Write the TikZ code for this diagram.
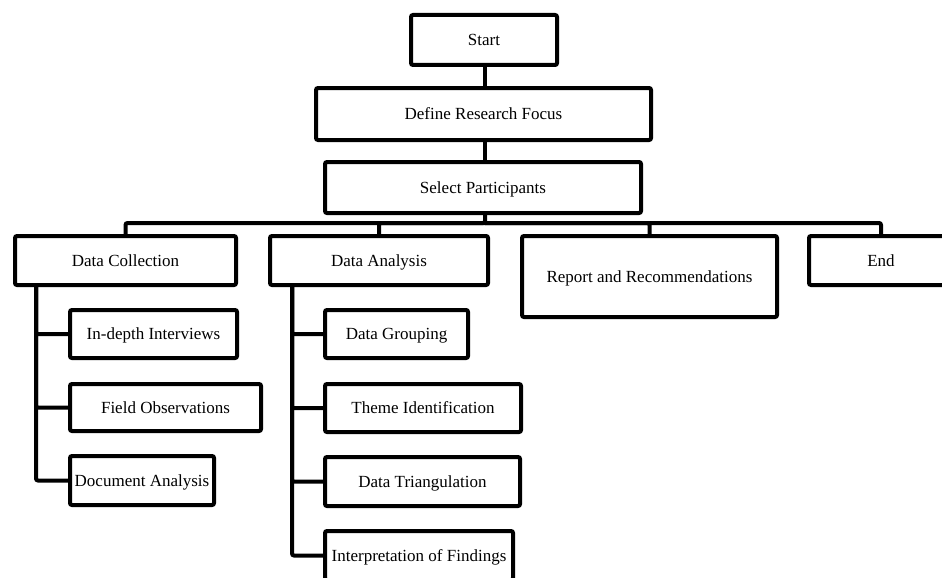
\documentclass[tikz,border=0pt]{standalone}
\usepackage{fontspec}
\setmainfont{Liberation Serif}
\begin{document}
\begin{tikzpicture}[x=1pt,y=-1pt,
  box/.style={draw=black, line width=4pt, rounded corners=2pt, fill=white,
    inner sep=0pt, outer sep=0pt, align=center, text height=12pt, text depth=0.5pt,
    font=\fontsize{17}{20}\selectfont},
  link/.style={draw=black, line width=4pt, rounded corners=2pt}]
\clip (0,0) rectangle (942,578);
\fill[white] (0,0) rectangle (942,578);
% main column
\node[box, minimum width=146pt, minimum height=50pt] (start) at (484,40) {Start};
\node[box, minimum width=335pt, minimum height=52pt] (define) at (483.5,114) {Define Research Focus};
\node[box, minimum width=316pt, minimum height=51pt] (select) at (483,187.5) {Select Participants};
% second row
\node[box, minimum width=221pt, minimum height=49pt] (dc) at (125.5,260.5) {Data Collection};
\node[box, minimum width=218pt, minimum height=49pt] (da) at (379,260.5) {Data Analysis};
\node[box, minimum width=255pt, minimum height=81pt] (rr) at (649.5,276.5) {Report and Recommendations};
\node[box, minimum width=144pt, minimum height=49pt] (end) at (881,260.5) {End};
% data collection children
\node[box, minimum width=167pt, minimum height=48pt] (ii) at (153.5,334) {In-depth Interviews};
\node[box, minimum width=191pt, minimum height=47pt] (fo) at (165.5,407.5) {Field Observations};
\node[box, minimum width=144pt, minimum height=49pt] (doc) at (142,480.5) {Document Analysis};
% data analysis children
\node[box, minimum width=143pt, minimum height=48pt] (dg) at (396.5,334) {Data Grouping};
\node[box, minimum width=196pt, minimum height=48pt] (ti) at (423,408) {Theme Identification};
\node[box, minimum width=195pt, minimum height=49pt] (dt) at (422.5,481.5) {Data Triangulation};
\node[box, minimum width=188pt, minimum height=49pt] (iof) at (419,555.5) {Interpretation of Findings};
% connectors
\coordinate (bus) at (485,223);
\coordinate (dcx) at (36,0);
\coordinate (dax) at (292,0);
\draw[link] (start.south -| bus) -- (define.north -| bus);
\draw[link] (define.south -| bus) -- (select.north -| bus);
\draw[link] (select.south -| bus) -- (bus) -| (dc.north);
\draw[link] (bus) -| (da.north);
\draw[link] (bus) -| (rr.north);
\draw[link] (bus) -| (end.north);
\draw[link] (dc.south -| dcx) |- (ii.west);
\draw[link] (dc.south -| dcx) |- (fo.west);
\draw[link] (dc.south -| dcx) |- (doc.west);
\draw[link] (da.south -| dax) |- (dg.west);
\draw[link] (da.south -| dax) |- (ti.west);
\draw[link] (da.south -| dax) |- (dt.west);
\draw[link] (da.south -| dax) |- (iof.west);
\end{tikzpicture}
\end{document}
